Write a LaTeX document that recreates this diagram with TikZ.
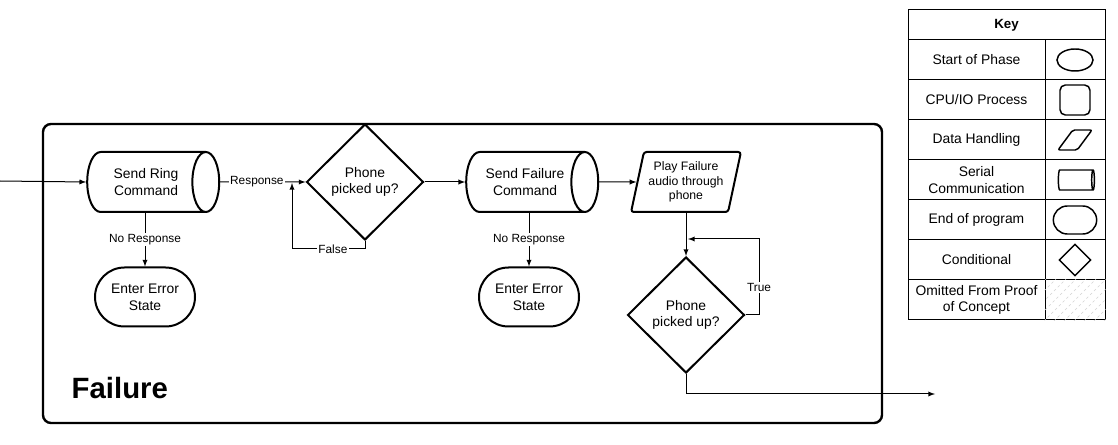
\documentclass[tikz,border=0pt]{standalone}
\usepackage{fontspec}
\setmainfont{Liberation Sans}
\usetikzlibrary{positioning}
\usetikzlibrary{shapes}
\usetikzlibrary{shapes.geometric}
\usetikzlibrary{shapes.misc}

\begin{document}
\begin{tikzpicture}[x=0.75pt, y=-0.75pt, font=\fontsize{10.4}{12.5}\selectfont,
  serial/.style={draw, line width=1.5pt, cylinder, shape aspect=1,
    minimum width=45pt, minimum height=99pt, align=center, inner sep=0pt},
  decision/.style={draw, line width=1.5pt, diamond, minimum width=87.75pt,
    minimum height=87pt, align=center, inner sep=0pt},
  data/.style={draw, line width=1.5pt, trapezium, trapezium left angle=74,
    trapezium right angle=106, trapezium stretches=true, minimum width=82.5pt,
    minimum height=45pt, rounded corners=2pt, align=center, inner sep=0pt,
    font=\fontsize{9.2}{10.7}\selectfont},
  terminal/.style={draw, line width=1.5pt, rounded rectangle,
    minimum width=75pt, minimum height=44.25pt, align=center, inner sep=0pt},
  link/.style={-latex, line width=0.75pt},
  flow label/.style={fill=white, inner sep=1pt, font=\fontsize{8.9}{10.5}\selectfont},
  key cell/.style={draw, line width=0.75pt, minimum height=30pt, align=center, inner sep=0pt},
  key shape/.style={draw, line width=1.1pt, inner sep=1pt}]
\useasboundingbox (0, 0) rectangle (1118, 445);
\draw[line width=1.8pt, rounded corners=6pt] (43, 124) rectangle (882, 423);
\node[anchor=west, font=\bfseries\fontsize{22}{26}\selectfont]
  (title)
  at (67, 388)
  {Failure};
\coordinate (entry) at (0, 181);
\coordinate (false-turn) at (292, 249);
\coordinate (false-end) at (292, 183);
\coordinate (true-turn) at (759, 239);
\coordinate (true-end) at (688, 239);
\coordinate (exit) at (935, 394);
\node[serial]
  (ring)
  at (146, 182)
  {Send Ring\\Command};
\node[decision]
  (picked1)
  at (365, 182)
  {Phone\\picked up?};
\node[terminal]
  (error1)
  at (145, 297)
  {Enter Error\\State};
\node[serial]
  (failcmd)
  at (525, 182)
  {Send Failure\\Command};
\node[terminal]
  (error2)
  at (529, 297)
  {Enter Error\\State};
\node[data]
  (play)
  at (686, 182)
  {Play Failure\\audio through\\phone};
\node[decision]
  (picked2)
  at (686, 315)
  {Phone\\picked up?};
\draw[link] (entry) -- (ring.west);
\draw[link] (ring.east) -- node[pos=0.43, flow label] {Response} (picked1.west);
\draw[link] (ring.south -| error1.north) -- node[flow label] {No Response} (error1.north);
\draw[link] (picked1.south) |- node[pos=0.72, flow label] {False} (false-turn) -- (false-end);
\draw[link] (picked1.east) -- (failcmd.west);
\draw[link] (failcmd.south -| error2.north) -- node[flow label] {No Response} (error2.north);
\draw[link] (failcmd.east) -- (play.west);
\draw[link] (play.south -| picked2.north) -- (picked2.north);
\draw[link] (picked2.east) -| node[pos=0.68, flow label] {True} (true-turn) -- (true-end);
\draw[link] (picked2.south) |- (exit);
\node[key cell, minimum width=147.75pt, minimum height=22.5pt,
    font=\bfseries\fontsize{10}{12}\selectfont]
  (key)
  at (1006.5, 25)
  {Key};
\foreach \y/\name/\txt in {
    60/start/Start of Phase,
    100/cpu/{CPU/IO Process},
    140/data/Data Handling,
    180/serial/{Serial\\Communication},
    220/end/End of program,
    260/cond/Conditional,
    300/omit/{Omitted From Proof\\of Concept}} {
  \node[key cell, minimum width=102.75pt]
    (key-\name)
    at (976.5, \y)
    {\txt};
  \node[key cell, minimum width=45pt]
    (sym-\name)
    at (1075, \y)
    {};
}
\node[key shape, ellipse, minimum width=27pt, minimum height=16.5pt]
  (shape-start) at (sym-start) {};
\node[key shape, rectangle, rounded corners=4pt, minimum size=22.5pt]
  (shape-cpu) at (sym-cpu) {};
\node[key shape, trapezium, trapezium left angle=65, trapezium right angle=115,
    trapezium stretches=true, minimum width=25.5pt, minimum height=15pt, rounded corners=1.5pt]
  (shape-data) at (sym-data) {\strut};
\node[key shape, cylinder, shape aspect=1, minimum width=15pt, minimum height=27pt]
  (shape-serial) at (sym-serial) {};
\node[key shape, rounded rectangle, minimum width=34.5pt, minimum height=21pt]
  (shape-end) at (sym-end) {};
\node[key shape, diamond, minimum size=24pt]
  (shape-cond) at (sym-cond) {};
\begin{scope}
  \clip (sym-omit.south west) rectangle (sym-omit.north east);
  \foreach \i in {0, ..., 10}
    \draw[gray!35, dash pattern=on 2pt off 2pt] (1000 + \i * 10, 325) -- ++(50, -50);
\end{scope}
\end{tikzpicture}
\end{document}
